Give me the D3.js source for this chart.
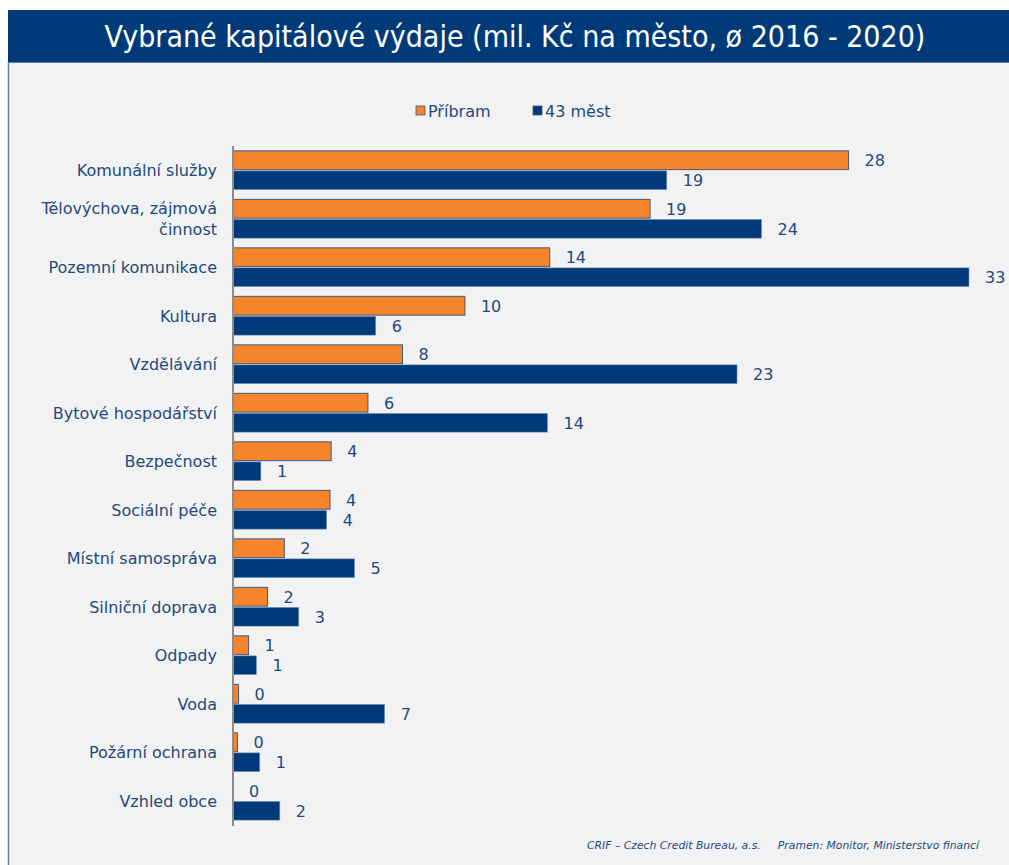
<!DOCTYPE html>
<html>
<head>
    <meta charset="utf-8">
    <title>Vybrané kapitálové výdaje</title>
    <script src="https://d3js.org/d3.v7.min.js"></script>
    <style>
        body { margin: 0; background: #ffffff; }
        svg text { font-family: "DejaVu Sans", Verdana, sans-serif; }
    </style>
</head>
<body>
<div id="chart"></div>
<script>
    // categories (top to bottom)
    const categories = [
        "Komunální služby", "Tělovýchova, zájmová činnost", "Pozemní komunikace", "Kultura",
        "Vzdělávání", "Bytové hospodářství", "Bezpečnost", "Sociální péče",
        "Místní samospráva", "Silniční doprava", "Odpady", "Voda",
        "Požární ochrana", "Vzhled obce"
    ];
    // series values (mil. Kč)
    const pribram = [27.6, 18.7, 14.2, 10.4, 7.6, 6.05, 4.4, 4.35, 2.3, 1.55, 0.7, 0.25, 0.2, 0];
    const mest43 = [19.45, 23.7, 33.0, 6.4, 22.6, 14.1, 1.25, 4.2, 5.45, 2.95, 1.05, 6.8, 1.2, 2.1];
    const seriesNames = ["Příbram", "43 měst"];
    const seriesColors = ["#f5842b", "#003a78"];

    const W = 1009, H = 865;
    const textColor = "#1f497d";
    const svg = d3.select("#chart").append("svg")
        .attr("width", W).attr("height", H);

    // panel background + title bar
    svg.append("rect").attr("x", 8).attr("y", 62).attr("width", W - 8).attr("height", H - 62)
        .attr("fill", "#f2f2f2");
    svg.append("line").attr("x1", 8.5).attr("x2", 8.5).attr("y1", 62).attr("y2", H)
        .attr("stroke", "#5b7fae").attr("stroke-width", 1.5);
    svg.append("rect").attr("x", 8).attr("y", 10).attr("width", W - 8).attr("height", 53)
        .attr("fill", "#003a78");
    svg.append("line").attr("x1", 8).attr("x2", W).attr("y1", 62.5).attr("y2", 62.5)
        .attr("stroke", "#5b7fae");
    svg.append("text")
        .attr("x", 515).attr("y", 47)
        .attr("text-anchor", "middle")
        .attr("fill", "#ffffff")
        .style("font-family", "'DejaVu Sans Condensed', 'DejaVu Sans', sans-serif")
        .style("font-stretch", "condensed")
        .style("font-size", "30px")
        .text("Vybrané kapitálové výdaje (mil. Kč na město, ø 2016 - 2020)");

    // scales
    const x = d3.scaleLinear().domain([0, 33]).range([233, 969]);
    const y = d3.scaleBand().domain(categories).range([146, 825]).paddingInner(0.2).paddingOuter(0.1);
    const ySub = d3.scaleBand().domain(seriesNames).range([0, y.bandwidth()]).paddingInner(0.06);

    const rows = categories.map((c, i) => ({cat: c, values: [pribram[i], mest43[i]]}));

    const groups = svg.append("g").selectAll("g")
        .data(rows)
        .join("g")
        .attr("transform", d => `translate(0, ${y(d.cat)})`);

    const cells = groups.selectAll("g")
        .data(d => d.values.map((v, j) => ({key: seriesNames[j], value: v, j: j})))
        .join("g");

    cells.filter(d => d.value > 0).append("rect")
        .attr("x", x(0))
        .attr("y", d => ySub(d.key))
        .attr("width", d => x(d.value) - x(0))
        .attr("height", ySub.bandwidth())
        .attr("fill", d => seriesColors[d.j])
        .attr("stroke", d => d.j === 0 ? "#3f5a80" : "#7f9cc0")
        .attr("stroke-width", d => d.j === 0 ? 1 : 0.6);

    cells.append("text")
        .attr("x", d => x(d.value) + 16)
        .attr("y", d => ySub(d.key) + ySub.bandwidth() / 2)
        .attr("dy", "0.36em")
        .attr("fill", textColor)
        .style("font-size", "16px")
        .text(d => Math.round(d.value));

    // y axis line
    svg.append("line")
        .attr("x1", x(0)).attr("x2", x(0))
        .attr("y1", 146).attr("y2", 826)
        .attr("stroke", "#8c8c8c").attr("stroke-width", 2);

    // category labels
    const labels = svg.append("g").selectAll("text")
        .data(categories)
        .join("text")
        .attr("x", 217)
        .attr("y", d => y(d) + y.bandwidth() / 2)
        .attr("text-anchor", "end")
        .attr("fill", textColor)
        .style("font-size", "16px");
    labels.each(function (d) {
        const t = d3.select(this);
        if (d === "Tělovýchova, zájmová činnost") {
            t.append("tspan").attr("x", 217).attr("dy", "-0.3em").text("Tělovýchova, zájmová");
            t.append("tspan").attr("x", 217).attr("dy", "1.3em").text("činnost");
        } else {
            t.attr("dy", "0.36em").text(d);
        }
    });

    // legend
    const legendX = [416, 533];
    const legend = svg.append("g").selectAll("g")
        .data(seriesNames)
        .join("g")
        .attr("transform", (d, i) => `translate(${legendX[i]}, 106)`);
    legend.append("rect")
        .attr("width", 9).attr("height", 9)
        .attr("fill", (d, i) => seriesColors[i])
        .attr("stroke", "#3f5a80").attr("stroke-width", 0.8);
    legend.append("text")
        .attr("x", 12).attr("y", 5).attr("dy", "0.36em")
        .attr("fill", textColor)
        .style("font-size", "16px")
        .text(d => d);

    // footer
    svg.append("text")
        .attr("x", 979).attr("y", 849)
        .attr("text-anchor", "end")
        .attr("fill", textColor)
        .style("font-size", "10.8px")
        .style("font-style", "italic")
        .attr("xml:space", "preserve")
        .text("CRIF – Czech Credit Bureau, a.s.     Pramen: Monitor, Ministerstvo financí");
</script>
</body>
</html>
